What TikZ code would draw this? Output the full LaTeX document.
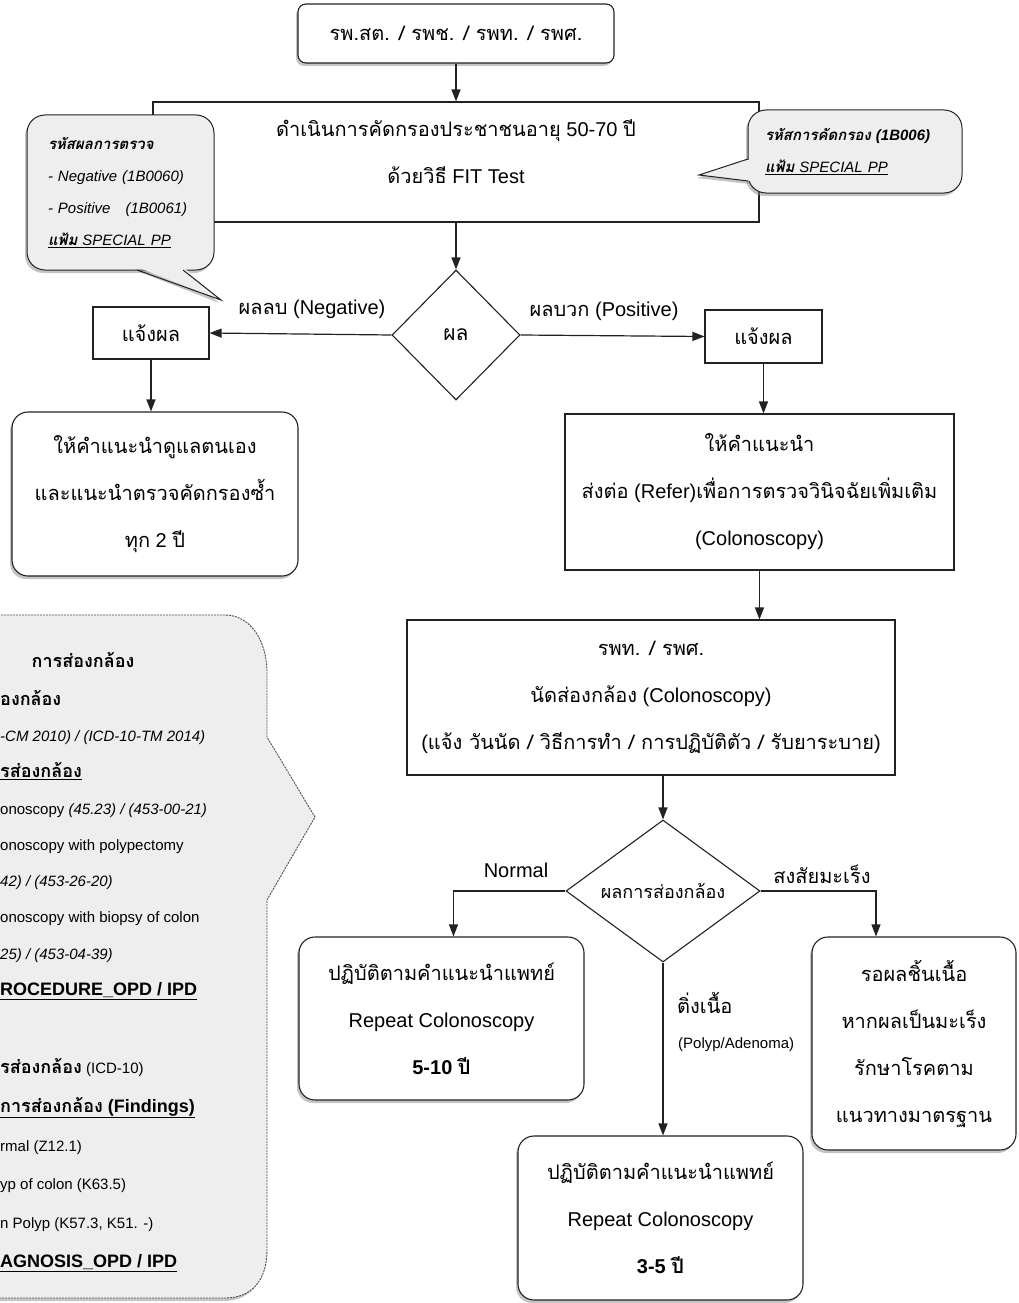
\documentclass[tikz,border=0pt]{standalone}
\usepackage{fontspec}
\setmainfont{Liberation Sans}
\newfontfamily\thaifont[Script=Thai]{Loma}
\newcommand\T[1]{{\thaifont #1}}
\usetikzlibrary{arrows.meta,positioning,shapes.geometric,shadows}
\definecolor{ink}{HTML}{222222}
\definecolor{calloutgray}{HTML}{EEEEEE}
\definecolor{shade}{HTML}{8C8C8C}
\tikzset{
  plainbox/.style={draw=ink,line width=1.1pt,fill=white,align=center,inner sep=0pt,
                   font=\fontsize{20}{47}\selectfont},
  roundbox/.style={plainbox,rounded corners=16pt,
                   drop shadow={shadow xshift=-2pt,shadow yshift=-3pt,fill=shade,opacity=.5}},
  decision/.style={diamond,draw=ink,line width=1.1pt,fill=white,inner sep=0pt,aspect=1,
                   font=\fontsize{18}{20}\selectfont},
  callout/.style={draw=ink,line width=1pt,fill=calloutgray,rounded corners=18pt,align=left,
                  inner sep=0pt,font=\fontsize{15}{32}\selectfont\itshape,
                  drop shadow={shadow xshift=-2pt,shadow yshift=-3pt,fill=shade,opacity=.5}},
  tailfill/.style={fill=calloutgray,drop shadow={shadow xshift=-2pt,shadow yshift=-3pt,fill=shade,opacity=.5}},
  notebox/.style={draw=ink!80,line width=.9pt,dash pattern=on 2pt off 1pt,fill=calloutgray,
                  drop shadow={shadow xshift=-2pt,shadow yshift=-3pt,fill=shade,opacity=.5}},
  tag/.style={inner sep=0pt,font=\fontsize{20}{24}\selectfont},
  arrow/.style={-{Triangle[length=12pt,width=9pt]},line width=1.2pt,draw=ink}
}
\begin{document}
\begin{tikzpicture}[x=1pt,y=-1pt]
\useasboundingbox (0,0) rectangle (1019,1303);
% screening
\node[roundbox,rounded corners=8pt,minimum width=316,minimum height=59] (hosp) at (456,33.5) {\T{รพ.สต. / รพช. / รพท. / รพศ.}};
\node[plainbox,minimum width=606,minimum height=120,text depth=20pt] (screen) at (456,162)
  {\T{ดำเนินการคัดกรองประชาชนอายุ} 50-70 \T{ปี}\\\T{ด้วยวิธี} FIT Test};
\node[decision,minimum width=128,minimum height=130,font=\fontsize{21}{24}\selectfont] (result) at (456,335) {\T{ผล}};
% code callouts
\node[callout,minimum width=214,minimum height=83,text width=180] (screencode) at (855,151.5)
  {\textbf{\T{รหัสการคัดกรอง} (1B006)}\\\underline{\textbf{\T{แฟ้ม}} SPECIAL PP}};
\path[tailfill] (751,159) -- (699,175) -- (751,181) -- cycle;
\draw[ink,line width=1pt] (748,159) -- (699,175) -- (748,181);
\node[callout,minimum width=187,minimum height=155,text width=145] (resultcode) at (120.5,192.5)
  {\textbf{\T{รหัสผลการตรวจ}}\\- Negative (1B0060)\\- Positive\ \ \ (1B0061)\\\underline{\textbf{\T{แฟ้ม}} SPECIAL PP}};
\path[tailfill] (137,267) -- (221,300) -- (183,267) -- cycle;
\draw[ink,line width=1pt] (137,270) -- (221,300) -- (183,270);
% notify
\node[plainbox,minimum width=116,minimum height=52] (negnotify) at (151,333) {\T{แจ้งผล}};
\node[plainbox,minimum width=117,minimum height=53] (posnotify) at (763.5,336.5) {\T{แจ้งผล}};
\node[roundbox,minimum width=286,minimum height=164] (selfcare) at (155,494)
  {\T{ให้คำแนะนำดูแลตนเอง}\\\T{และแนะนำตรวจคัดกรองซ้ำ}\\\T{ทุก} 2 \T{ปี}};
\node[plainbox,minimum width=389,minimum height=156] (refer) at (759.5,492)
  {\T{ให้คำแนะนำ}\\\T{ส่งต่อ} (Refer)\T{เพื่อการตรวจวินิจฉัยเพิ่มเติม}\\(Colonoscopy)};
\node[plainbox,minimum width=488,minimum height=155] (appoint) at (651,697.5)
  {\T{รพท. / รพศ.}\\\T{นัดส่องกล้อง} (Colonoscopy)\\(\T{แจ้ง วันนัด / วิธีการทำ / การปฏิบัติตัว / รับยาระบาย})};
% colonoscopy result
\node[decision,minimum width=194,minimum height=142] (scoperes) at (663,891) {\T{ผลการส่องกล้อง}};
\node[roundbox,minimum width=285,minimum height=163] (repeatlong) at (441.5,1018.5)
  {\T{ปฏิบัติตามคำแนะนำแพทย์}\\Repeat Colonoscopy\\\textbf{5-10 \T{ปี}}};
\node[roundbox,minimum width=204,minimum height=213] (biopsy) at (914,1043.5)
  {\T{รอผลชิ้นเนื้อ}\\\T{หากผลเป็นมะเร็ง}\\\T{รักษาโรคตาม}\\\T{แนวทางมาตรฐาน}};
\node[roundbox,minimum width=285,minimum height=164] (repeatshort) at (660.5,1218)
  {\T{ปฏิบัติตามคำแนะนำแพทย์}\\Repeat Colonoscopy\\\textbf{3-5 \T{ปี}}};
% ICD note
\draw[notebox] (-5,615) -- (225,615) .. controls (250,615) and (267,640) .. (267,673) -- (267,737)
  -- (315,817) -- (267,900) -- (267,1250) .. controls (267,1280) and (252,1298) .. (225,1298)
  -- (-5,1298) -- cycle;
\node[tag,font=\fontsize{18}{20}\selectfont\bfseries] (icdtitle) at (83,660) {\T{การส่องกล้อง}};
\node[anchor=west,align=left,inner sep=0pt,font=\fontsize{15}{36.25}\selectfont] (icdproc) at (0,845)
  {{\bfseries\fontsize{18}{36.25}\selectfont\T{องกล้อง}}\\
   \textit{-CM 2010) / (ICD-10-TM 2014)}\\
   {\bfseries\fontsize{18}{36.25}\selectfont\underline{\T{รส่องกล้อง}}}\\
   onoscopy \textit{(45.23) / (453-00-21)}\\
   onoscopy with polypectomy\\
   \textit{42) / (453-26-20)}\\
   onoscopy with biopsy of colon\\
   \textit{25) / (453-04-39)}\\
   {\bfseries\fontsize{18}{36.25}\selectfont\underline{ROCEDURE\_OPD / IPD}}};
\node[anchor=west,align=left,inner sep=0pt,font=\fontsize{15}{38.8}\selectfont] (icddiag) at (0,1165)
  {{\bfseries\fontsize{18}{38.8}\selectfont\T{รส่องกล้อง}} (ICD-10)\\
   {\bfseries\fontsize{18}{38.8}\selectfont\underline{\T{การส่องกล้อง} (Findings)}}\\
   rmal (Z12.1)\\
   yp of colon (K63.5)\\
   n Polyp (K57.3, K51. -)\\
   {\bfseries\fontsize{18}{38.8}\selectfont\underline{AGNOSIS\_OPD / IPD}}};
% labels
\node[tag] (neglabel) at (312,309) {\T{ผลลบ} (Negative)};
\node[tag] (poslabel) at (604,311) {\T{ผลบวก} (Positive)};
\node[tag] (normlabel) at (516,870) {Normal};
\node[tag] (cancerlabel) at (822,874) {\T{สงสัยมะเร็ง}};
\node[tag,anchor=west] (polyplabel) at (677,1003) {\T{ติ่งเนื้อ}};
\node[tag,anchor=west,font=\fontsize{15}{18}\selectfont] (adenomalabel) at (678,1045) {(Polyp/Adenoma)};
% connectors
\draw[arrow] (hosp) -- (screen);
\draw[arrow] (screen) -- (result);
\draw[arrow] (result.west) -- (negnotify.east);
\draw[arrow] (result.east) -- (posnotify.west);
\draw[arrow] (negnotify) -- (negnotify |- selfcare.north);
\draw[arrow] (posnotify) -- (posnotify |- refer.north);
\draw[arrow] (refer.south) -- (refer.south |- appoint.north);
\draw[arrow] (scoperes.north |- appoint.south) -- (scoperes.north);
\draw[arrow] (scoperes.west) -| ([xshift=12pt]repeatlong.north);
\draw[arrow] (scoperes.east) -| ([xshift=-38pt]biopsy.north);
\draw[arrow] (scoperes.south) -- (scoperes.south |- repeatshort.north);
\end{tikzpicture}
\end{document}
